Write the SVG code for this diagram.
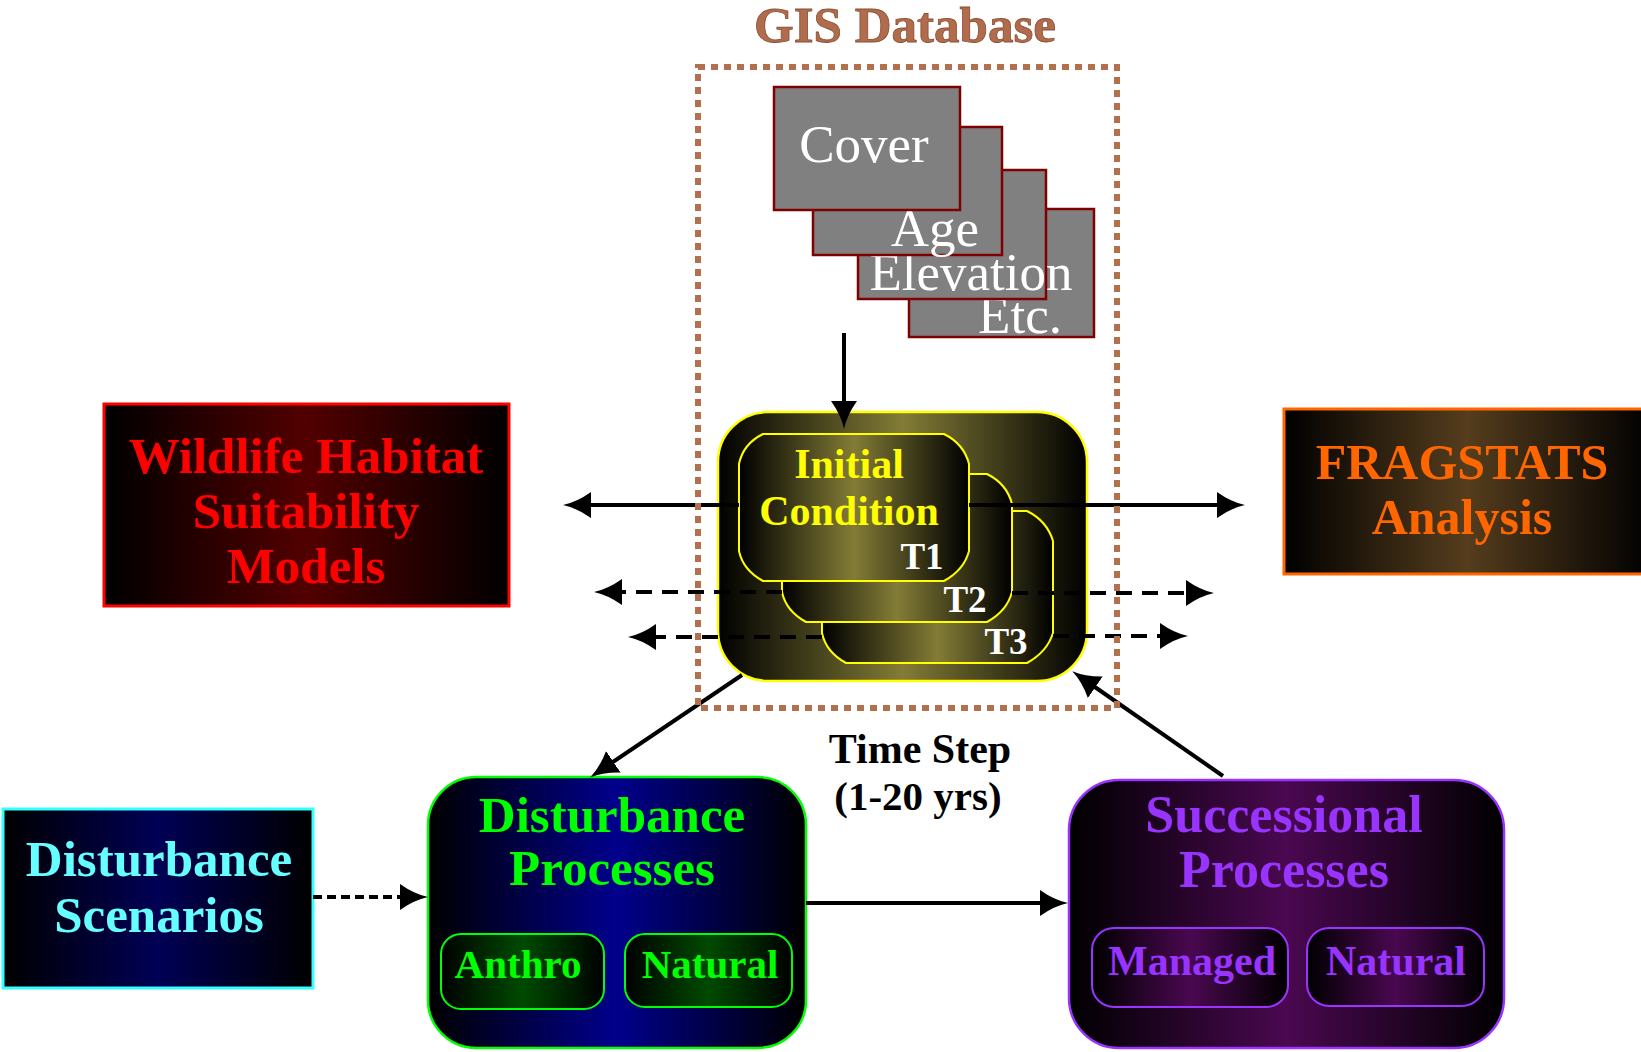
<svg xmlns="http://www.w3.org/2000/svg" width="1641" height="1052" viewBox="0 0 1641 1052">
<defs>
<style>
text{font-family:"Liberation Serif","Times New Roman",serif;text-anchor:middle}
.b{font-weight:bold}
.layer{fill:#808080;stroke:#800000;stroke-width:2.5}
.layerTxt{fill:#fff;font-size:53px}
.ln{fill:none;stroke:#000;stroke-width:4}
.dash{stroke-dasharray:16 10}
.dot{stroke-dasharray:9 5}
</style>
<linearGradient id="gOlive" x1="0" y1="0" x2="1" y2="0"><stop offset="0" stop-color="#000"/><stop offset="0.5" stop-color="#837C36"/><stop offset="1" stop-color="#000"/></linearGradient>
<linearGradient id="gRed" x1="0" y1="0" x2="1" y2="0"><stop offset="0" stop-color="#000"/><stop offset="0.5" stop-color="#520000"/><stop offset="1" stop-color="#000"/></linearGradient>
<linearGradient id="gOrange" x1="0" y1="0" x2="1" y2="0"><stop offset="0" stop-color="#000"/><stop offset="0.5" stop-color="#553D1D"/><stop offset="1" stop-color="#000"/></linearGradient>
<linearGradient id="gCyan" x1="0" y1="0" x2="1" y2="0"><stop offset="0" stop-color="#000"/><stop offset="0.5" stop-color="#000055"/><stop offset="1" stop-color="#000"/></linearGradient>
<linearGradient id="gBlue" x1="0" y1="0" x2="1" y2="0"><stop offset="0" stop-color="#000"/><stop offset="0.5" stop-color="#00008C"/><stop offset="1" stop-color="#000"/></linearGradient>
<linearGradient id="gGreen" x1="0" y1="0" x2="1" y2="0"><stop offset="0" stop-color="#000"/><stop offset="0.5" stop-color="#004A00"/><stop offset="1" stop-color="#000"/></linearGradient>
<linearGradient id="gPurple" x1="0" y1="0" x2="1" y2="0"><stop offset="0" stop-color="#000"/><stop offset="0.5" stop-color="#4A0850"/><stop offset="1" stop-color="#000"/></linearGradient>
<marker id="ah" viewBox="0 0 28 26" markerWidth="28" markerHeight="26" refX="4" refY="13" orient="auto" markerUnits="userSpaceOnUse"><path d="M0,0 Q14,10 28,13 Q14,16 0,26 Z" fill="#000"/></marker>
</defs>
<rect width="1641" height="1052" fill="#fff"/>

<g id="gis-layers">
<rect class="layer" x="909" y="209" width="185" height="128"/>
<text class="layerTxt" x="1020" y="333">Etc.</text>
<rect class="layer" x="858" y="170" width="188" height="129"/>
<text class="layerTxt" x="971" y="290">Elevation</text>
<rect class="layer" x="813" y="127" width="189" height="128"/>
<text class="layerTxt" x="935" y="246">Age</text>
<rect class="layer" x="774" y="87" width="186" height="123"/>
<text class="layerTxt" x="864" y="162">Cover</text>
</g>

<g id="time-steps">
<rect x="718" y="412" width="369" height="269" rx="50" ry="50" fill="url(#gOlive)" stroke="#FFFF00" stroke-width="2.5"/>
<path d="M846,511 H1027 Q1047,521 1053,541 V633 Q1047,652 1027,663 H846 Q826,652 822,633 V541 Q826,521 846,511 Z" fill="url(#gOlive)" stroke="#FFFF00" stroke-width="2"/>
<path d="M806,474 H987 Q1007,484 1012,504 V592 Q1007,611 987,622 H806 Q786,611 782,592 V504 Q786,484 806,474 Z" fill="url(#gOlive)" stroke="#FFFF00" stroke-width="2"/>
<path d="M763,434 H944 Q964,444 969,464 V551 Q964,570 944,581 H763 Q743,570 739,551 V464 Q743,444 763,434 Z" fill="url(#gOlive)" stroke="#FFFF00" stroke-width="2"/>
<text class="b" x="849" y="478" font-size="42" fill="#FFFF00">Initial</text>
<text class="b" x="849" y="525" font-size="42" fill="#FFFF00">Condition</text>
<text class="b" x="922" y="569" font-size="37" fill="#fff">T1</text>
<text class="b" x="965" y="612" font-size="37" fill="#fff">T2</text>
<text class="b" x="1006" y="654" font-size="37" fill="#fff">T3</text>
</g>

<g id="wildlife-habitat">
<rect x="104" y="404" width="405" height="202" fill="url(#gRed)" stroke="#FF0000" stroke-width="3"/>
<text class="b" x="306" y="473" font-size="51" fill="#FF0000">Wildlife Habitat</text>
<text class="b" x="306" y="528" font-size="51" fill="#FF0000">Suitability</text>
<text class="b" x="306" y="583" font-size="51" fill="#FF0000">Models</text>
</g>

<g id="fragstats">
<rect x="1284" y="409" width="366" height="165" fill="url(#gOrange)" stroke="#FF6600" stroke-width="3"/>
<text class="b" x="1462" y="479" font-size="50" fill="#FF6600">FRAGSTATS</text>
<text class="b" x="1462" y="534" font-size="50" fill="#FF6600">Analysis</text>
</g>

<g id="disturbance-scenarios">
<rect x="3" y="809" width="310" height="179" fill="url(#gCyan)" stroke="#33FFFF" stroke-width="3"/>
<text class="b" x="159" y="876" font-size="51" fill="#66FFFF">Disturbance</text>
<text class="b" x="159" y="932" font-size="51" fill="#66FFFF">Scenarios</text>
</g>

<g id="disturbance-processes">
<rect x="428" y="777" width="378" height="271" rx="48" ry="48" fill="url(#gBlue)" stroke="#00FF00" stroke-width="2.5"/>
<text class="b" x="612" y="832" font-size="51" fill="#00FF00">Disturbance</text>
<text class="b" x="612" y="885" font-size="51" fill="#00FF00">Processes</text>
<g id="anthro">
<rect x="441" y="934" width="163" height="75" rx="20" ry="20" fill="url(#gGreen)" stroke="#00FF00" stroke-width="2"/>
<text class="b" x="518" y="978" font-size="41" fill="#00FF00">Anthro</text>
</g>
<g id="natural-disturbance">
<rect x="625" y="934" width="167" height="73" rx="20" ry="20" fill="url(#gGreen)" stroke="#00FF00" stroke-width="2"/>
<text class="b" x="710" y="978" font-size="41" fill="#00FF00">Natural</text>
</g>
</g>

<g id="successional-processes">
<rect x="1069" y="780" width="435" height="268" rx="50" ry="50" fill="url(#gPurple)" stroke="#9933FF" stroke-width="2.5"/>
<text class="b" x="1284" y="832" font-size="52" fill="#9933FF">Successional</text>
<text class="b" x="1284" y="887" font-size="52" fill="#9933FF">Processes</text>
<g id="managed">
<rect x="1092" y="928" width="196" height="79" rx="22" ry="22" fill="url(#gPurple)" stroke="#9933FF" stroke-width="2"/>
<text class="b" x="1192" y="975" font-size="42" fill="#9933FF">Managed</text>
</g>
<g id="natural-succession">
<rect x="1307" y="928" width="177" height="78" rx="22" ry="22" fill="url(#gPurple)" stroke="#9933FF" stroke-width="2"/>
<text class="b" x="1396" y="975" font-size="42" fill="#9933FF">Natural</text>
</g>
</g>

<g id="time-step-label">
<text class="b" x="920" y="763" font-size="42" fill="#000">Time Step</text>
<text class="b" x="918" y="810" font-size="41" fill="#000">(1-20 yrs)</text>
</g>

<g id="connectors">
<path class="ln" d="M844,333 V405" marker-end="url(#ah)"/>
<path class="ln" d="M739,505 H587" marker-end="url(#ah)"/>
<path class="ln" d="M969,505 H1221" marker-end="url(#ah)"/>
<path class="ln dash" d="M782,592 H618" marker-end="url(#ah)"/>
<path class="ln dash" d="M1012,593 H1190" marker-end="url(#ah)"/>
<path class="ln dash" d="M822,637 H652" marker-end="url(#ah)"/>
<path class="ln dash" d="M1053,636 H1164" marker-end="url(#ah)"/>
<path class="ln" d="M742,675 L610,764" marker-end="url(#ah)"/>
<path class="ln" d="M1223,776 L1092,685" marker-end="url(#ah)"/>
<path class="ln dot" d="M313,897 H404" marker-end="url(#ah)"/>
<path class="ln" d="M806,903 H1044" marker-end="url(#ah)"/>
</g>

<g id="gis-database">
<rect x="698" y="67" width="419" height="641" fill="none" stroke="#B3704F" stroke-width="6" stroke-dasharray="7 6"/>
<text class="b" x="905" y="42" font-size="51" fill="#B06C4C" stroke="#8A4E33" stroke-width="0.8">GIS Database</text>
</g>
</svg>
